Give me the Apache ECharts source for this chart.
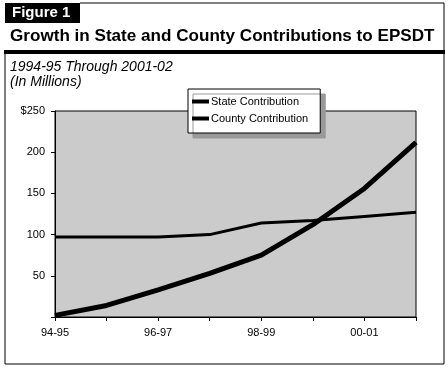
<!DOCTYPE html>
<html>
<head>
<meta charset="utf-8">
<script src="https://cdn.jsdelivr.net/npm/echarts@6/dist/echarts.min.js"></script>
<style>html,body{margin:0;padding:0;background:#fff}#c{width:448px;height:368px}</style>
</head>
<body>
<div id="c"></div>
<script>
const categories = ['94-95','95-96','96-97','97-98','98-99','99-00','00-01','01-02'];
const stateContribution = [2, 14, 33, 53, 75, 112, 156, 212];
const countyContribution = [97, 97, 97, 100, 114, 117, 122, 127];
const yTickLabels = {0: '', 50: '50', 100: '100', 150: '150', 200: '200', 250: '$250'};
const seriesNames = ['State Contribution', 'County Contribution'];

const FONT = '"Liberation Sans", Arial, Helvetica, sans-serif';
const chart = echarts.init(document.getElementById('c'), null, {renderer: 'canvas'});
chart.setOption({
  animation: false,
  backgroundColor: '#fff',
  textStyle: {fontFamily: FONT},
  graphic: [
    {type: 'rect', shape: {x: 5, y: 3, width: 75, height: 20}, style: {fill: '#000'}},
    {type: 'line', shape: {x1: 80, y1: 3, x2: 444, y2: 3}, style: {stroke: '#000', lineWidth: 1}},
    {type: 'line', shape: {x1: 444, y1: 3, x2: 444, y2: 364}, style: {stroke: '#000', lineWidth: 1}},
    {type: 'line', shape: {x1: 5, y1: 52, x2: 5, y2: 364}, style: {stroke: '#000', lineWidth: 1}},
    {type: 'line', shape: {x1: 5, y1: 364, x2: 444, y2: 364}, style: {stroke: '#000', lineWidth: 1}},
    {type: 'rect', shape: {x: 4, y: 50, width: 441, height: 4}, style: {fill: '#000'}},
    {type: 'text', left: 12, top: 5, style: {text: 'Figure 1', fill: '#fff', font: 'bold 15px ' + FONT}},
    {type: 'text', left: 10, top: 28, style: {text: 'Growth in State and County Contributions to EPSDT', fill: '#000', font: 'bold 17.1px ' + FONT}},
    {type: 'text', left: 10, top: 60, style: {text: '1994-95 Through 2001-02', fill: '#000', font: 'italic 14px ' + FONT}},
    {type: 'text', left: 10, top: 75, style: {text: '(In Millions)', fill: '#000', font: 'italic 14px ' + FONT}}
  ],
  legend: {
    orient: 'vertical',
    left: 188, top: 89,
    padding: [7, 12, 9, 4],
    itemGap: 6,
    itemWidth: 17,
    itemHeight: 4,
    backgroundColor: '#fff',
    borderColor: '#000',
    borderWidth: 1,
    shadowColor: '#999',
    shadowBlur: 0,
    shadowOffsetX: 5,
    shadowOffsetY: 5,
    textStyle: {fontSize: 11, color: '#000', fontFamily: FONT, padding: [0, 0, 0, -3]},
    data: [
      {name: seriesNames[0], icon: 'rect', itemStyle: {color: '#000'}},
      {name: seriesNames[1], icon: 'rect', itemStyle: {color: '#000'}}
    ]
  },
  grid: {
    left: 55, right: 32, top: 111, bottom: 51,
    show: true, backgroundColor: '#cbcbcb', borderColor: '#000', borderWidth: 1,
    containLabel: false
  },
  xAxis: {
    type: 'category',
    data: categories,
    boundaryGap: false,
    axisLine: {lineStyle: {color: '#000', width: 1}},
    axisTick: {show: true, interval: 0, length: 4, lineStyle: {color: '#000'}},
    axisLabel: {interval: 1, color: '#000', fontSize: 11, margin: 10, fontFamily: FONT},
    splitLine: {show: false}
  },
  yAxis: {
    type: 'value',
    min: 0, max: 250, interval: 50,
    axisLine: {show: true, lineStyle: {color: '#000', width: 1}},
    axisTick: {show: true, length: 4, lineStyle: {color: '#000'}},
    axisLabel: {color: '#000', fontSize: 11, margin: 10, fontFamily: FONT,
      formatter: v => yTickLabels[v] !== undefined ? yTickLabels[v] : String(v)},
    splitLine: {show: false}
  },
  series: [
    {name: seriesNames[0], type: 'line', data: stateContribution, showSymbol: false, symbol: 'none',
     lineStyle: {color: '#000', width: 5}, itemStyle: {color: '#000'}, z: 3},
    {name: seriesNames[1], type: 'line', data: countyContribution, showSymbol: false, symbol: 'none',
     lineStyle: {color: '#000', width: 3}, itemStyle: {color: '#000'}, z: 2}
  ]
});
</script>
</body>
</html>
